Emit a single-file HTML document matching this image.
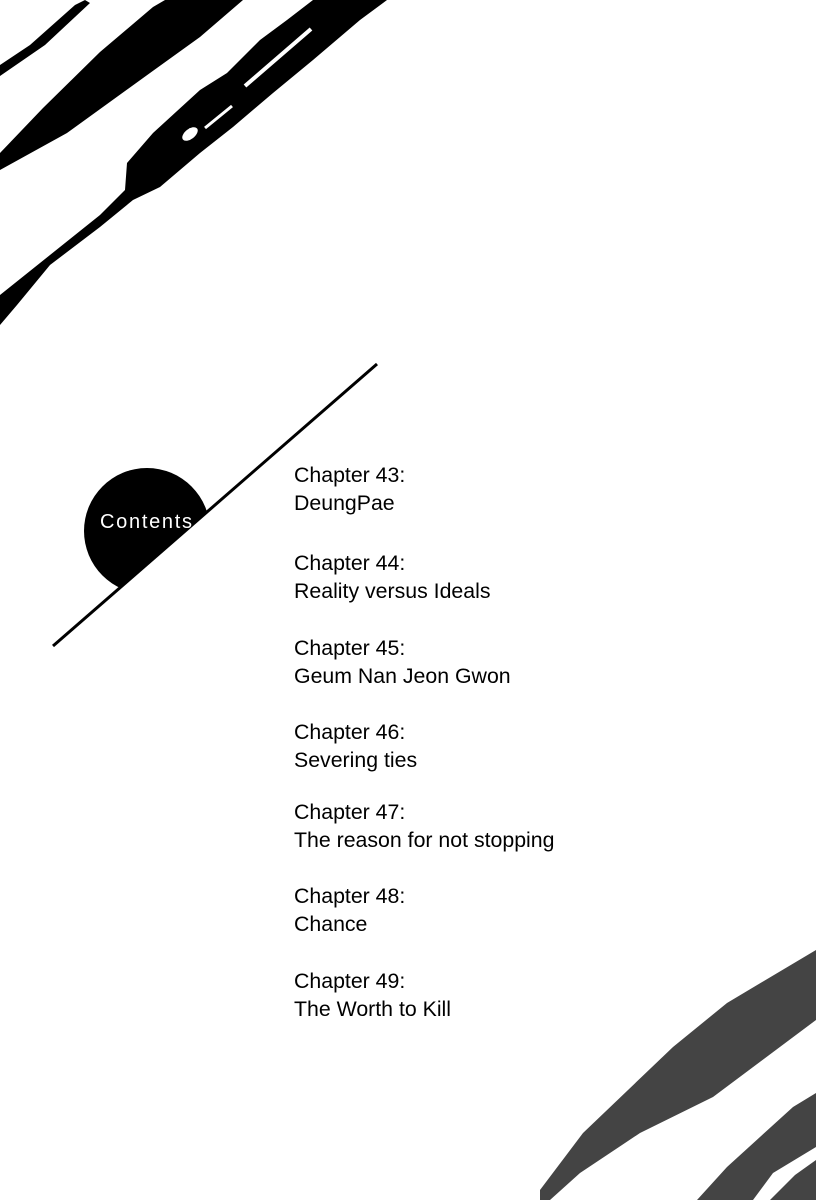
<!DOCTYPE html>
<html><head><style>
html,body{margin:0;padding:0;background:#fff;}
svg{display:block;}
text{font-family:"Liberation Sans",sans-serif;}
</style></head><body>
<svg width="816" height="1200" viewBox="0 0 816 1200" xmlns="http://www.w3.org/2000/svg">
<defs>
<clipPath id="c"><polygon points="0,692 0,0 795,0"/></clipPath>
</defs>
<rect width="816" height="1200" fill="#fff"/>
<!-- top-left strokes -->
<polygon points="0,65 30,45 75,5 85,0 90,3 45,45 0,76" fill="#000"/>
<polygon points="0,153 43,108 100,52 153,7 165,0 243,0 200,37 150,73 67,133 0,170" fill="#000"/>
<polygon points="0,295 50,255 100,215 125,190 127,163 153,133 200,90 227,73 260,40 287,20 313,0 387,0 360,20 313,60 273,93 233,127 200,153 160,187 133,200 100,227 50,265 17,305 0,325" fill="#000"/>
<line x1="311" y1="29" x2="245" y2="86" stroke="#fff" stroke-width="4"/>
<line x1="232" y1="106" x2="205" y2="128" stroke="#fff" stroke-width="3"/>
<ellipse cx="190" cy="134" rx="9" ry="5" transform="rotate(-38 190 134)" fill="#fff"/>
<!-- bottom-right strokes -->
<polygon points="540,1190 583,1133 673,1047 727,1003 816,950 816,1020 713,1097 640,1133 580,1173 550,1200 540,1200" fill="#444"/>
<polygon points="697,1200 727,1167 793,1107 816,1093 816,1147 773,1173 753,1200" fill="#444"/>
<polygon points="770,1200 795,1175 816,1160 816,1200" fill="#444"/>
<!-- line and circle -->
<circle cx="147" cy="531" r="63" fill="#000" clip-path="url(#c)"/>
<line x1="53" y1="646" x2="377" y2="364" stroke="#000" stroke-width="3"/>
<text x="100" y="528" fill="#fff" font-size="20" textLength="92" lengthAdjust="spacing">Contents</text>
<g font-size="21.3" fill="#000">
<text x="294" y="482">Chapter 43:</text><text x="294" y="510">DeungPae</text>
<text x="294" y="570">Chapter 44:</text><text x="294" y="598">Reality versus Ideals</text>
<text x="294" y="655">Chapter 45:</text><text x="294" y="683">Geum Nan Jeon Gwon</text>
<text x="294" y="739">Chapter 46:</text><text x="294" y="767">Severing ties</text>
<text x="294" y="819">Chapter 47:</text><text x="294" y="847">The reason for not stopping</text>
<text x="294" y="903">Chapter 48:</text><text x="294" y="931">Chance</text>
<text x="294" y="988">Chapter 49:</text><text x="294" y="1016">The Worth to Kill</text>
</g>
</svg>
</body></html>
